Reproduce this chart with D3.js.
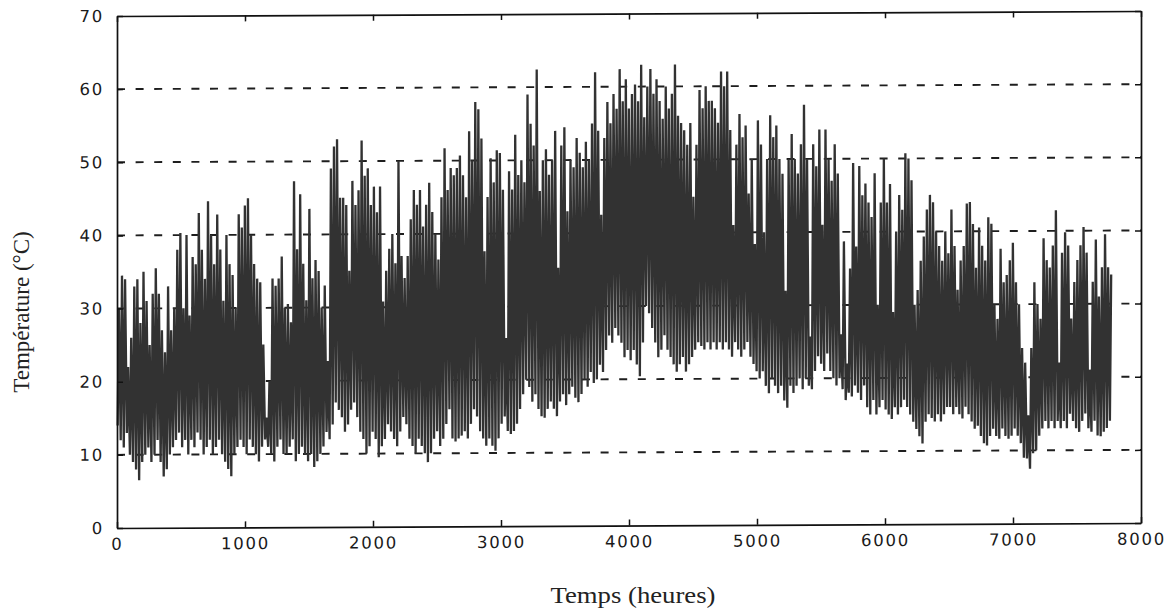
<!DOCTYPE html>
<html>
<head>
<meta charset="utf-8">
<script src="https://cdn.jsdelivr.net/npm/d3@7"></script>
<style>
  body { margin: 0; background: #fff; }
  svg { display: block; }
</style>
</head>
<body>
<svg id="chart" width="1172" height="611"></svg>
<script>
// Daily extremes of the hourly temperature record (°C), one value per day from hour 0.
const dailyMax = [
  30, 34.5, 34, 22, 26, 33, 34, 28, 35, 31,
  25, 32, 35.5, 32, 27, 24, 33, 27, 30, 38,
  40.3, 30, 40, 29, 37, 36, 43, 38, 34, 44.6,
  40, 36, 42.8, 38, 31, 40, 36, 34.5, 30, 42.8,
  41, 44, 45, 40, 36, 34, 33.5, 25, 15, 20,
  34, 33, 34, 37, 30, 30.5, 28, 47.3, 38, 45.5,
  36, 31, 43.5, 34, 36.5, 35, 30, 33, 22.7, 49,
  52, 53, 45, 45, 44, 35, 47.3, 44, 46, 52.8,
  48, 49, 44, 46.5, 43, 46.5, 30.8, 35, 38, 40,
  36, 50, 37, 34, 37, 42, 46, 44, 46, 41,
  44, 47, 43, 40, 36.5, 45, 51.7, 46, 49, 48,
  49, 50.7, 48, 45, 54, 50, 58, 57, 53, 37.6,
  45, 50.3, 47, 51.4, 51, 46, 25.7, 48.5, 46, 53.5,
  48, 50, 47, 59, 55, 52, 62.4, 45.8, 50, 51.5,
  48, 50, 54, 35.3, 52, 54.5, 43, 50, 49, 53,
  51, 49, 52.5, 50, 55, 62, 54, 42.5, 53, 57.9,
  55, 59, 57, 62.4, 58, 61, 57, 59, 60.3, 58,
  63, 55.8, 60, 62.4, 59, 61, 58, 55.6, 60, 57,
  59, 63, 56, 55, 54, 52, 55, 44.9, 52, 59.5,
  57, 60, 58, 58, 57, 55, 62, 60, 62, 54,
  41, 52, 56.2, 53, 54.6, 45.3, 50, 38.4, 55.3, 52,
  40, 50, 56, 53, 54.6, 50, 48, 32, 50, 53.4,
  50, 48, 52, 57.4, 50, 25.7, 52, 49, 54, 41,
  54, 50, 47, 52, 48, 26, 38.7, 22, 35, 49.4,
  38, 49, 45, 46.6, 44, 42, 48, 30, 44, 50,
  44, 46.5, 29, 40, 45, 43, 50.7, 50, 47, 30,
  32, 36, 39.3, 43, 45, 44, 40, 38, 36, 40,
  37, 43, 38, 32, 36, 38, 43.8, 44, 41, 35,
  40.5, 38, 36, 41.9, 41, 30, 28, 37.6, 33, 34,
  36, 38.4, 33, 30, 24, 22, 14.8, 24, 33, 30,
  28, 39, 36, 35, 38, 42.8, 22, 37, 39.8, 38,
  28, 33, 36, 38, 40.5, 37, 21, 33, 38.8, 31,
  35, 39.5, 35, 34
];
const dailyMin = [
  14, 12, 11, 13, 10, 9, 8, 6.5, 9, 10,
  11, 9, 10, 12, 9, 7, 8, 10, 11, 12,
  13, 11, 12, 10, 12, 11, 13, 12, 10, 11,
  12, 10, 11, 12, 10, 9, 8, 7, 10, 11,
  12, 11, 10, 12, 11, 10, 9, 11, 12, 11,
  10, 9, 11, 12, 10, 10, 11, 12, 9, 10,
  11, 10, 9, 10, 8.2, 9, 10, 11, 13, 12,
  14, 17, 16, 15, 13, 14, 16, 17, 15, 13,
  12, 10, 11, 13, 12, 9.5, 11, 12, 14, 13,
  12, 11, 13, 15, 14, 12, 11, 10, 12, 11,
  10, 8.8, 10, 12, 13, 11, 12, 14, 16, 12,
  11.6, 12, 12.4, 13, 12, 14, 16, 15, 13, 12,
  11, 12, 11, 10.3, 12, 14, 15, 13, 12.6, 13,
  14, 16, 18, 20, 19, 17, 18, 16, 15, 14.8,
  16, 17, 16, 15, 17, 18, 16.5, 18, 19, 17.5,
  16.9, 18, 20, 19, 21, 19.5, 20, 22, 21, 24,
  26, 25, 27, 26, 25, 23, 24, 22.6, 24, 22,
  20.4, 25, 30, 29, 27, 25, 23, 24, 26, 24,
  23, 22, 21, 22, 23, 21, 22, 23, 24, 25,
  24.5, 24, 25, 24, 25, 24, 25, 24, 25, 24,
  23, 25, 24, 23, 24, 25, 23, 22, 21, 20,
  21, 19, 18, 20, 19, 18, 19, 17, 16, 19,
  18, 19, 20, 18.5, 20, 19, 18.5, 21, 23, 22,
  21, 23.4, 21, 20, 19, 20, 18.5, 17, 18, 17.5,
  19, 18, 17, 19, 16, 15, 17, 15, 16, 17,
  15.7, 15, 14.4, 16, 15, 16, 17, 16, 15, 14,
  13, 12, 11, 14, 15, 14.5, 14, 15, 14, 15,
  16, 16, 15, 16, 15, 14.4, 16, 15, 14, 13,
  13.4, 12, 11, 10.7, 12, 13, 12, 11.6, 13, 12,
  11.6, 12, 13, 12, 11, 9, 8.9, 7.5, 9.6, 10,
  12, 13, 14, 13, 14, 13, 14, 13, 14, 13,
  15, 14, 13, 12.5, 14, 15, 13, 12.5, 14, 12,
  11.9, 12.5, 13, 14
];
const xTicks = [0, 1000, 2000, 3000, 4000, 5000, 6000, 7000, 8000];
const yTicks = [0, 10, 20, 30, 40, 50, 60, 70];
const gridLevels = [10, 20, 30, 40, 50, 60];
const xTitle = "Temps (heures)";
const yTitle = "Température (°C)";

const svg = d3.select("#chart");
svg.append("rect").attr("width", 1172).attr("height", 611).attr("fill", "#fff");

const x = d3.scaleLinear().domain([0, 8000]).range([117, 1141]);
const y = d3.scaleLinear().domain([0, 70]).range([528, 16]);

// the whole plot leans slightly upward to the right
const plot = svg.append("g")
  .attr("transform", "translate(117,0) skewY(-0.28) translate(-117,0)");

// dashed horizontal grid
plot.append("g").selectAll("line").data(gridLevels).join("line")
  .attr("x1", x(0)).attr("x2", x(8000))
  .attr("y1", d => y(d)).attr("y2", d => y(d))
  .attr("stroke", "#1e1e1e").attr("stroke-width", 1.9)
  .attr("stroke-dasharray", "8,10.6");

// hourly series: each day's low early in the morning, high in the afternoon
const points = [];
dailyMin.forEach((lo, d) => {
  points.push([d * 24 + 5, lo]);
  points.push([d * 24 + 15, dailyMax[d]]);
});
const line = d3.line().x(p => x(p[0])).y(p => y(p[1]));
plot.append("path").datum(points)
  .attr("d", line)
  .attr("fill", "none")
  .attr("stroke", "#323232")
  .attr("stroke-width", 2.3)
  .attr("stroke-linejoin", "bevel");

// axes with inward ticks on all four sides
const tickFont = "'DejaVu Sans', sans-serif";
function styleAxis(sel) {
  sel.select(".domain").attr("stroke", "#111").attr("stroke-width", 1.7);
  sel.selectAll(".tick line").attr("stroke", "#111").attr("stroke-width", 1.5);
  sel.selectAll(".tick text")
    .attr("fill", "#1a1a1a")
    .style("font-family", tickFont)
    .style("font-size", "16.5px")
    .style("letter-spacing", "1.8px");
}
const fmt = d3.format("d");

plot.append("g").attr("transform", `translate(0,${y(0)})`)
  .call(d3.axisBottom(x).tickValues(xTicks).tickFormat(fmt).tickSize(-6).tickSizeOuter(0).tickPadding(10))
  .call(styleAxis);
plot.append("g").attr("transform", `translate(0,${y(70)})`)
  .call(d3.axisTop(x).tickValues(xTicks).tickSize(-6).tickSizeOuter(0).tickFormat(""))
  .call(styleAxis);
plot.append("g").attr("transform", `translate(${x(0)},0)`)
  .call(d3.axisLeft(y).tickValues(yTicks).tickFormat(fmt).tickSize(-6).tickSizeOuter(0).tickPadding(13))
  .call(styleAxis);
plot.append("g").attr("transform", `translate(${x(8000)},0)`)
  .call(d3.axisRight(y).tickValues(yTicks).tickSize(-6).tickSizeOuter(0).tickFormat(""))
  .call(styleAxis);

// axis titles
svg.append("text")
  .attr("x", 633).attr("y", 603)
  .attr("text-anchor", "middle")
  .attr("textLength", 165)
  .attr("lengthAdjust", "spacingAndGlyphs")
  .style("font-family", "'Liberation Serif', serif")
  .style("font-size", "23px")
  .attr("fill", "#222")
  .text(xTitle);
svg.append("text")
  .attr("transform", "translate(29,312) rotate(-90)")
  .attr("text-anchor", "middle")
  .style("font-family", "'Liberation Serif', serif")
  .style("font-size", "23px")
  .attr("fill", "#222")
  .text(yTitle);
</script>
</body>
</html>
